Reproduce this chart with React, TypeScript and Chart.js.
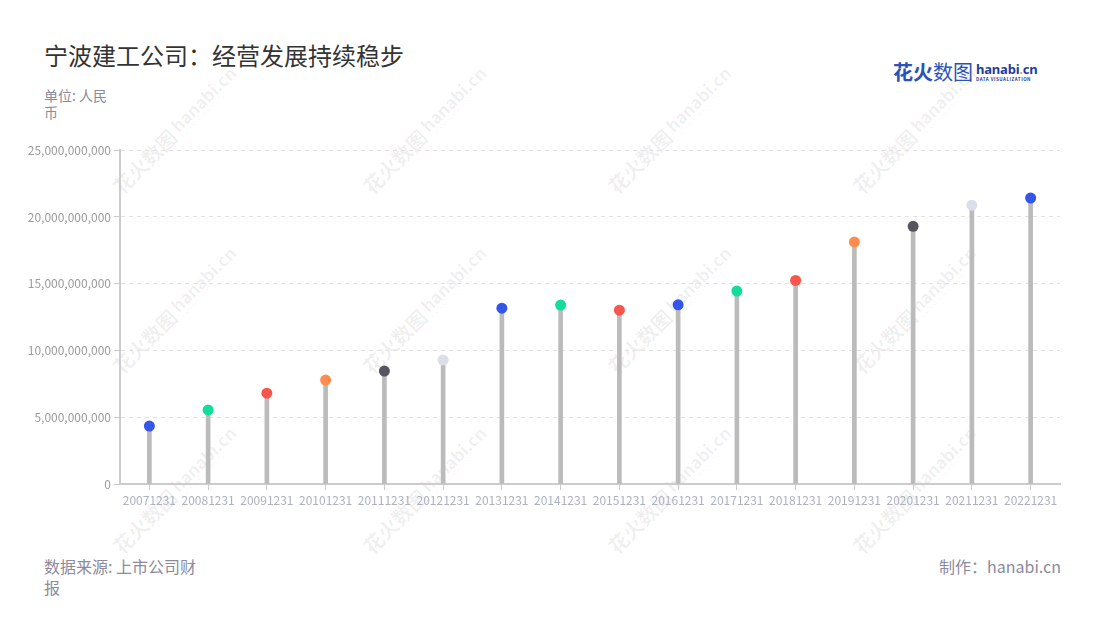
import React, { useEffect, useRef } from "react";
import { Chart, registerables } from "chart.js";

Chart.register(...registerables);

const categories = [
  "20071231", "20081231", "20091231", "20101231", "20111231", "20121231",
  "20131231", "20141231", "20151231", "20161231", "20171231", "20181231",
  "20191231", "20201231", "20211231", "20221231",
];

const revenue = [
  4.34e9, 5.55e9, 6.8e9, 7.78e9, 8.46e9, 9.28e9,
  13.17e9, 13.4e9, 13.02e9, 13.42e9, 14.45e9, 15.25e9,
  18.13e9, 19.3e9, 20.88e9, 21.42e9,
];

const pointColors = [
  "#3355ea", "#12dd9a", "#f7564b", "#ff8c4f", "#55555f", "#dcdfe7",
  "#3355ea", "#12dd9a", "#f7564b", "#3355ea", "#12dd9a", "#f7564b",
  "#ff8c4f", "#55555f", "#dcdfe7", "#3355ea",
];

const yTicks = [0, 5e9, 10e9, 15e9, 20e9, 25e9];

const FONT = "'Noto Sans CJK SC', 'Noto Sans', sans-serif";

const watermarkCenters = [
  [175, 130], [425, 130], [670, 130], [915, 130],
  [175, 310], [425, 310], [670, 310], [915, 310],
  [175, 490], [425, 490], [670, 490], [915, 490],
];

function Watermark({ x, y }: { x: number; y: number }) {
  return (
    <div
      style={{
        position: "absolute",
        left: x - 90,
        top: y - 16,
        width: 180,
        height: 32,
        transform: "rotate(-45deg)",
        display: "flex",
        alignItems: "center",
        justifyContent: "center",
        color: "rgba(0,0,0,0.065)",
        fontFamily: FONT,
        whiteSpace: "nowrap",
        pointerEvents: "none",
      }}
    >
      <span style={{ fontSize: 20, fontWeight: 700 }}>花火数图</span>
      <span style={{ display: "inline-flex", flexDirection: "column", marginLeft: 4, lineHeight: 1 }}>
        <span style={{ fontSize: 17, fontWeight: 700 }}>hanabi.cn</span>
        <span style={{ fontSize: 5, letterSpacing: 0.6 }}>DATA VISUALIZATION</span>
      </span>
    </div>
  );
}

export default function App() {
  const canvasRef = useRef<HTMLCanvasElement | null>(null);

  useEffect(() => {
    if (!canvasRef.current) return;
    const chart = new Chart(canvasRef.current, {
      type: "bar",
      data: {
        labels: categories,
        datasets: [
          {
            type: "line",
            data: revenue,
            showLine: false,
            pointRadius: 5.5,
            pointHoverRadius: 5.5,
            pointBorderWidth: 0,
            pointBackgroundColor: pointColors,
            pointBorderColor: pointColors,
            order: 0,
          } as any,
          {
            type: "bar",
            data: revenue,
            backgroundColor: "#bbbbbb",
            barThickness: 4,
            borderWidth: 0,
            order: 1,
          },
        ],
      },
      options: {
        responsive: false,
        animation: false,
        devicePixelRatio: 1,
        layout: { padding: { left: 0, right: 40, top: 10, bottom: 0 } },
        plugins: {
          legend: { display: false },
          tooltip: { enabled: false },
        },
        scales: {
          x: {
            offset: true,
            grid: {
              display: true,
              drawOnChartArea: false,
              offset: false,
              tickLength: 6,
              tickColor: "#cccccc",
              tickWidth: 1,
            },
            border: { display: true, color: "#cccccc", width: 2 },
            ticks: {
              color: "#adb1c1",
              font: { family: FONT, size: 12 },
              maxRotation: 0,
              autoSkip: false,
              padding: 3,
            },
            afterFit: (scale: any) => {
              scale.height = 36;
            },
          },
          y: {
            min: 0,
            max: 25e9,
            afterBuildTicks: (scale: any) => {
              scale.ticks = yTicks.map((v) => ({ value: v }));
            },
            grid: {
              color: "#e2e2e2",
              lineWidth: 1,
              tickLength: 6,
              tickColor: "#cccccc",
              tickBorderDash: [],
              drawTicks: true,
            } as any,
            border: { display: true, color: "#cccccc", width: 2, dash: [4, 4] } as any,
            ticks: {
              color: "#9b9b9b",
              font: { family: FONT, size: 12 },
              padding: 3,
              callback: (v: any) => Number(v).toLocaleString("en-US"),
            },
            afterFit: (scale: any) => {
              scale.width = 120;
            },
          },
        },
      },
    });
    return () => chart.destroy();
  }, []);

  return (
    <div
      style={{
        position: "fixed",
        left: 0,
        top: 0,
        width: 1100,
        height: 620,
        background: "#ffffff",
        overflow: "hidden",
        fontFamily: FONT,
      }}
    >
      {watermarkCenters.map(([x, y], i) => (
        <Watermark key={i} x={x} y={y} />
      ))}

      <div
        style={{
          position: "absolute",
          left: 44,
          top: 38,
          fontSize: 24,
          lineHeight: "34px",
          color: "#333333",
          whiteSpace: "nowrap",
        }}
      >
        宁波建工公司：经营发展持续稳步
      </div>

      <div
        style={{
          position: "absolute",
          left: 44,
          top: 87,
          fontSize: 14,
          lineHeight: "17px",
          color: "#8b8a99",
          whiteSpace: "pre",
        }}
      >
        {"单位: 人民\n币"}
      </div>

      <div
        style={{
          position: "absolute",
          left: 893,
          top: 58,
          display: "flex",
          alignItems: "center",
          whiteSpace: "nowrap",
        }}
      >
        <span style={{ fontSize: 20, lineHeight: "28px", color: "#2a52b9" }}>
          <span style={{ fontWeight: 700 }}>花火</span>
          <span style={{ fontWeight: 400 }}>数图</span>
        </span>
        <span
          style={{
            display: "inline-flex",
            flexDirection: "column",
            marginLeft: 3,
            lineHeight: 1,
          }}
        >
          <span
            style={{
              fontFamily: "'Noto Sans', sans-serif",
              fontSize: 13,
              fontWeight: 700,
              color: "#1f3d9c",
              letterSpacing: -0.2,
            }}
          >
            hanabi
            <span style={{ color: "#f0a030" }}>.</span>
            cn
          </span>
          <span
            style={{
              fontSize: 4.5,
              fontWeight: 700,
              color: "#1f3d9c",
              letterSpacing: 0.5,
              marginTop: 1,
            }}
          >
            DATA VISUALIZATION
          </span>
        </span>
      </div>

      <canvas
        ref={canvasRef}
        width={1100}
        height={380}
        style={{ position: "absolute", left: 0, top: 140, width: 1100, height: 380 }}
      />

      <div
        style={{
          position: "absolute",
          left: 44,
          top: 556,
          fontSize: 16,
          lineHeight: "21px",
          color: "#8c8a9c",
          whiteSpace: "pre",
        }}
      >
        {"数据来源: 上市公司财\n报"}
      </div>

      <div
        style={{
          position: "absolute",
          right: 39,
          top: 556,
          fontSize: 16,
          lineHeight: "21px",
          color: "#8c8a9c",
          whiteSpace: "nowrap",
        }}
      >
        制作：hanabi.cn
      </div>
    </div>
  );
}
